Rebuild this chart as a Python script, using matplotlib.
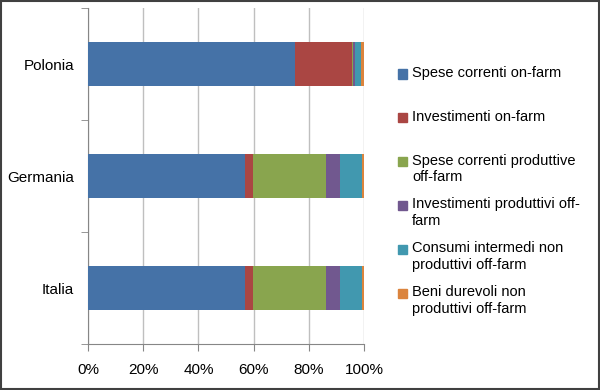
import matplotlib.pyplot as plt
from matplotlib.patches import Rectangle
import numpy as np

plt.rcParams['font.family'] = ['Liberation Sans', 'DejaVu Sans']

# categories listed bottom to top
paesi = ['Italia', 'Germania', 'Polonia']

spese_on = [56.8, 56.8, 75.0]
invest_on = [3.1, 3.1, 20.6]
spese_off = [26.2, 26.2, 0.5]
invest_off = [5.2, 5.2, 0.5]
consumi_off = [8.0, 8.0, 2.3]
beni_off = [0.7, 0.7, 1.1]

serie = [spese_on, invest_on, spese_off, invest_off, consumi_off, beni_off]
etichette = ['Spese correnti on-farm',
             'Investimenti on-farm',
             'Spese correnti produttive\noff-farm',
             'Investimenti produttivi off-\nfarm',
             'Consumi intermedi non\nproduttivi off-farm',
             'Beni durevoli non\nproduttivi off-farm']
colori = ['#4572A7', '#AA4643', '#89A54E', '#71588F', '#4198AF', '#DB843D']

fig = plt.figure(figsize=(6, 3.9), dpi=100)
ax = fig.add_axes([88 / 600, 46 / 390, 276 / 600, 336 / 390])

y = np.arange(len(paesi))
left = np.zeros(len(paesi))
for vals, col in zip(serie, colori):
    ax.barh(y, vals, left=left, height=0.4, color=col, edgecolor='none', zorder=3)
    left += np.array(vals)

ax.set_xlim(0, 100)
ax.set_ylim(-0.5, 2.5)
ax.set_xticks(np.arange(0, 101, 20))
ax.set_xticklabels([f'{v}%' for v in range(0, 101, 20)], fontsize=11)
ax.set_yticks(y)
ax.set_yticklabels(paesi, fontsize=11)
ax.set_yticks([-0.5, 0.5, 1.5, 2.5], minor=True)
ax.tick_params(axis='y', which='major', length=0, pad=10)
ax.tick_params(axis='y', which='minor', length=5, color='#868686')
ax.tick_params(axis='x', length=5, color='#868686', pad=9)
ax.grid(axis='x', color='#BFBFBF', linewidth=1, zorder=0)
for s in ['top', 'right']:
    ax.spines[s].set_visible(False)
for s in ['left', 'bottom']:
    ax.spines[s].set_color('#868686')

# legend drawn by hand so the marker sits on the first line of each label
for i, (lab, col) in enumerate(zip(etichette, colori)):
    yc = 1 - (74 + 43.8 * i) / 390
    fig.patches.append(Rectangle((398 / 600, yc - 4.5 / 390), 9 / 600, 9 / 390,
                                 transform=fig.transFigure, color=col))
    fig.text(412 / 600, yc + 8 / 390, lab, fontsize=10.5, va='top', ha='left',
             linespacing=1.25)

fig.patches.append(Rectangle((0.5 / 600, 1 / 390), 598.5 / 600, 388.5 / 390,
                             transform=fig.transFigure, fill=False,
                             edgecolor='#404040', linewidth=1.5))

fig.savefig('out.png', dpi=100)
